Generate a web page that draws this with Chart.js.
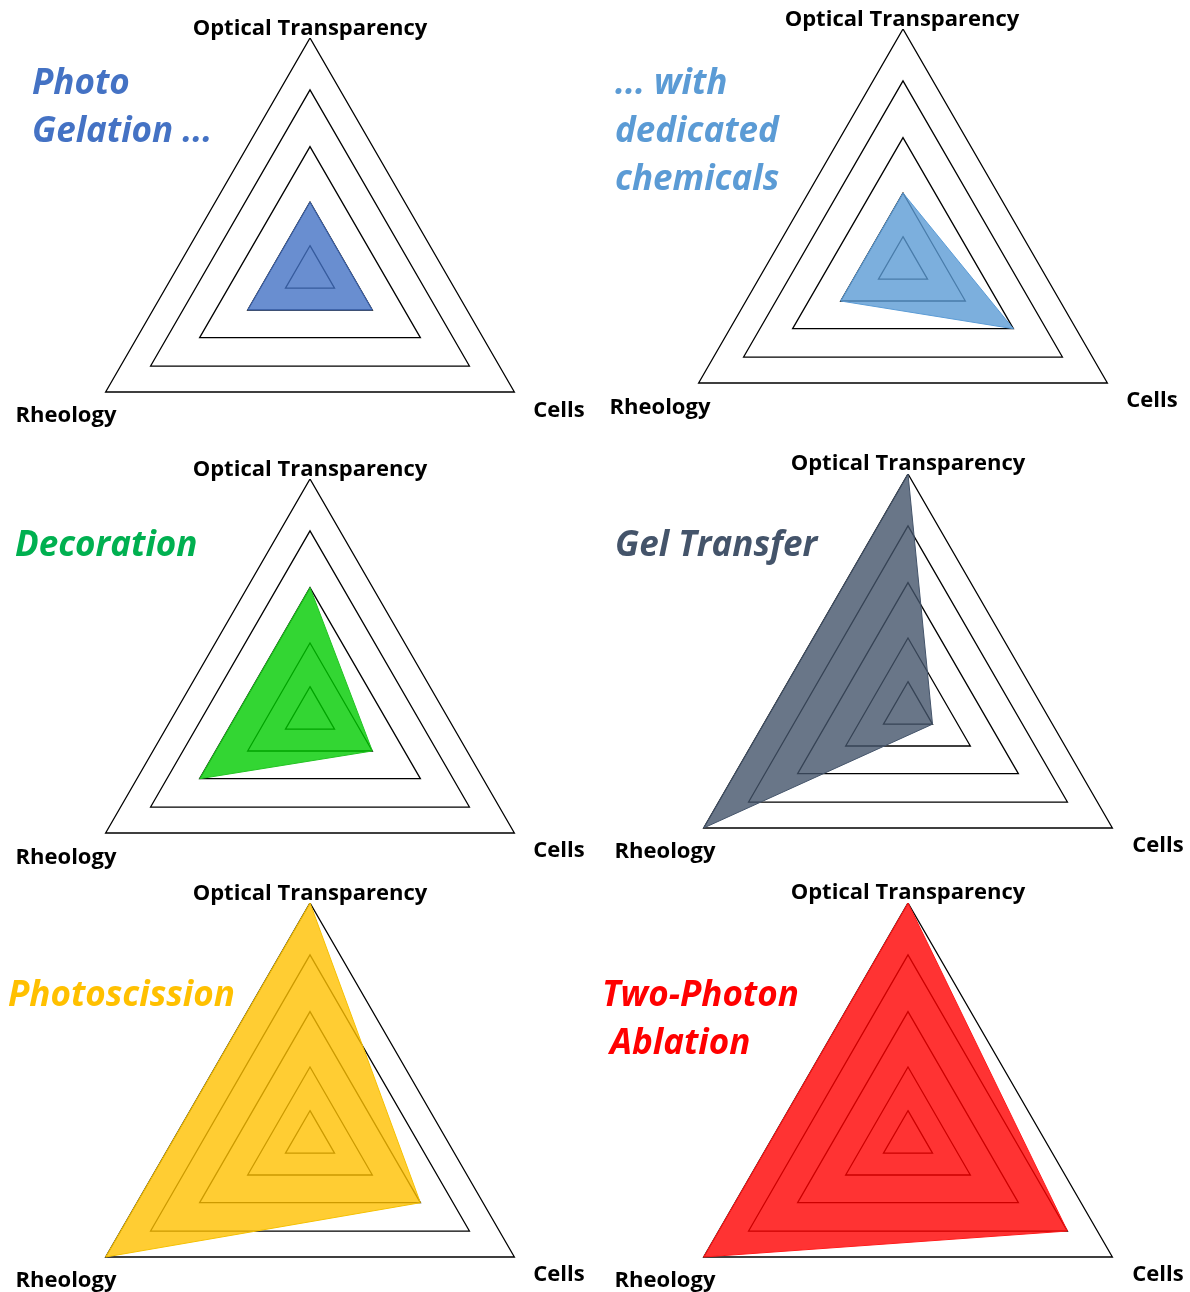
<!DOCTYPE html>
<html>
<head>
<meta charset="utf-8">
<script src="https://cdn.jsdelivr.net/npm/chart.js"></script>
<style>
  body { margin: 0; background: #fff; }
  #page { position: relative; width: 1190px; height: 1292px; overflow: hidden; font-family: "Open Sans", sans-serif; }
  canvas { position: absolute; }
  .lbl { position: absolute; font-weight: 700; font-size: 22px; color: #000; line-height: 1; white-space: nowrap; transform: translate(-50%, -50%); }
  .ttl { position: absolute; font-weight: 700; font-style: italic; font-size: 35px; line-height: 1; white-space: nowrap; transform: translateY(-50%); }
</style>
</head>
<body>
<div id="page"></div>
<script>
// axes of every triangle
let categories = ["Optical Transparency", "Cells", "Rheology"];

// grid triangles, as % of the outer triangle
let gridLevels = [12, 30.5, 54, 78, 100];

// series values (same order as categories)
let photoGelation = [30.5, 30.5, 30.5];
let dedicatedChemicals = [30.5, 54, 30.5];
let decoration = [54, 30.5, 54];
let gelTransfer = [100, 12, 100];
let photoscission = [100, 54, 100];
let twoPhotonAblation = [100, 78, 100];

let titles = [
  ["Photo", "Gelation ..."],
  ["... with", "dedicated", "chemicals"],
  ["Decoration"],
  ["Gel Transfer"],
  ["Photoscission"],
  ["Two-Photon", "Ablation"]
];
let seriesList = [photoGelation, dedicatedChemicals, decoration, gelTransfer, photoscission, twoPhotonAblation];

// layout / colours per panel
let panels = [
  { cx: 310, cy: 274, fill: "rgba(68,114,196,0.8)", line: "#3f64ad", title: "#4472C4", tx: [32, 32], ty: 80,
    lab: [[310, 26], [559, 408], [66, 413]] },
  { cx: 903, cy: 265, fill: "rgba(91,155,213,0.8)", line: "#5b9bd5", title: "#5B9BD5", tx: [615, 615, 615], ty: 80,
    lab: [[902, 17], [1152, 398], [660, 405]] },
  { cx: 310, cy: 715, fill: "rgba(0,204,0,0.8)", line: "#22c322", title: "#00B050", tx: [15], ty: 542,
    lab: [[310, 467], [559, 848], [66, 855]] },
  { cx: 908, cy: 710, fill: "rgba(68,84,106,0.8)", line: "#44546a", title: "#44546A", tx: [615], ty: 542,
    lab: [[908, 461], [1158, 843], [665, 849]] },
  { cx: 310, cy: 1139, fill: "rgba(255,192,0,0.8)", line: "#f5c000", title: "#FFC000", tx: [8], ty: 992,
    lab: [[310, 891], [559, 1272], [66, 1278]] },
  { cx: 908, cy: 1139, fill: "rgba(255,0,0,0.8)", line: "#ff1a1a", title: "#FF0000", tx: [602, 610], ty: 992,
    lab: [[908, 890], [1158, 1272], [665, 1278]] }
];

let page = document.getElementById("page");
let R = 236;

function makeRadar(p, values, title) {
  let c = document.createElement("canvas");
  c.width = R * 2;
  c.height = R * 2;
  c.style.left = (p.cx - R) + "px";
  c.style.top = (p.cy - R) + "px";
  page.appendChild(c);

  new Chart(c, {
    type: "radar",
    data: {
      labels: categories,
      datasets: [{
        data: values,
        backgroundColor: p.fill,
        borderColor: p.line,
        borderWidth: 1,
        fill: true,
        pointRadius: 0
      }]
    },
    options: {
      responsive: false,
      animation: false,
      layout: { padding: 0 },
      plugins: { legend: { display: false }, tooltip: { enabled: false } },
      scales: {
        r: {
          min: 0,
          max: 100,
          angleLines: { display: false },
          pointLabels: { display: false },
          ticks: { display: false },
          grid: { color: "#000", lineWidth: 1.3 },
          afterBuildTicks: function (s) {
            s.ticks = [0].concat(gridLevels).map(v => ({ value: v }));
          }
        }
      },
      elements: { line: { tension: 0 } }
    }
  });

  // axis names
  categories.forEach(function (name, i) {
    let d = document.createElement("div");
    d.className = "lbl";
    d.textContent = name;
    d.style.left = p.lab[i][0] + "px";
    d.style.top = p.lab[i][1] + "px";
    page.appendChild(d);
  });

  // panel title
  title.forEach(function (t, i) {
    let d = document.createElement("div");
    d.className = "ttl";
    d.textContent = t;
    d.style.color = p.title;
    d.style.left = p.tx[i] + "px";
    d.style.top = (p.ty + i * 48) + "px";
    page.appendChild(d);
  });
}

panels.forEach(function (p, i) {
  makeRadar(p, seriesList[i], titles[i]);
});
</script>
</body>
</html>
